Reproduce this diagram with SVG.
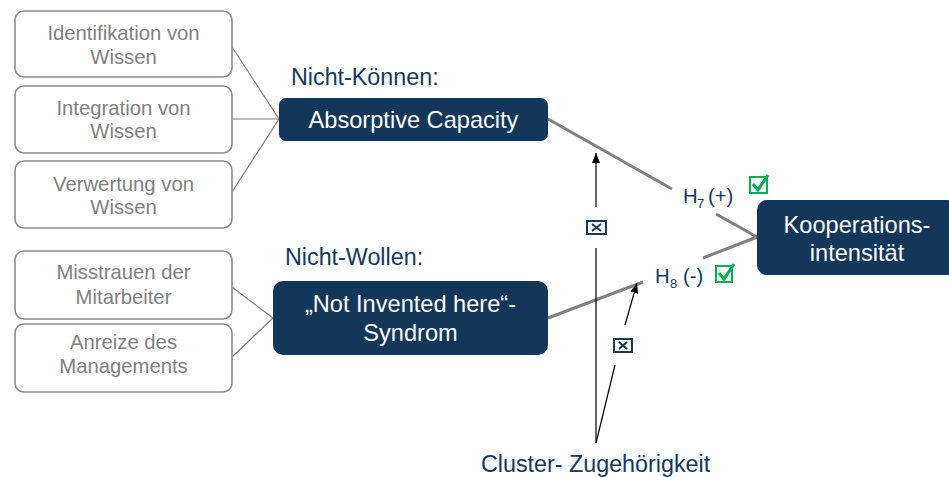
<svg xmlns="http://www.w3.org/2000/svg" width="949" height="477" viewBox="0 0 949 477">
<style>
.src rect{fill:#fff;stroke:#8c8c8c;stroke-width:1.6}
.src text{font-family:"Liberation Sans",Arial,sans-serif;font-size:20.3px;fill:#808080;text-anchor:middle}
.dark rect{fill:#12375b}
.dark text{font-family:"Liberation Sans",Arial,sans-serif;font-size:23.6px;fill:#fff;text-anchor:middle}
.lbl{font-family:"Liberation Sans",Arial,sans-serif;font-size:23.3px;fill:#17375e}
.h{font-family:"Liberation Sans",Arial,sans-serif;font-size:20.3px;fill:#17375e}
.sub{font-family:"Liberation Sans",Arial,sans-serif;font-size:13px;fill:#17375e}
.cb{fill:none;stroke:#00b050;stroke-width:2}
.ck{fill:none;stroke:#00b050;stroke-width:3;stroke-linejoin:miter}
.xb{fill:none;stroke:#17375e;stroke-width:2}
.xl{fill:none;stroke:#17375e;stroke-width:2}
.thin{stroke:#7f7f7f;stroke-width:1.2;fill:none}
.thick{stroke:#808080;stroke-width:3;fill:none}
.arr{stroke:#000;stroke-width:1.2;fill:none}
</style>
<defs>
<marker id="ah" markerUnits="userSpaceOnUse" markerWidth="10" markerHeight="8" refX="10" refY="4" orient="auto">
<path d="M0,0 L10,4 L0,8 z" fill="#000"/>
</marker>
</defs>
<g id="connectors">
<path class="thin" d="M232,47 L279,119 M232,119 L279,119 M232,192 L279,119"/>
<path class="thin" d="M232,287 L273,318 M232,357 L273,318"/>
<path class="thick" d="M548,119 L672,189 M716,214 L757,237"/>
<path class="thick" d="M548,318 L643,282 M703,258 L757,237"/>
<path class="arr" d="M596,443 L596,248"/>
<path class="arr" d="M596,207 L596,153" marker-end="url(#ah)"/>
<path class="arr" d="M596,443 L615,365"/>
<path class="arr" d="M625,325 L637,283" marker-end="url(#ah)"/>
</g>
<g id="n-ident" class="src"><rect x="15" y="11" width="217" height="66" rx="9"/><text x="123.5" y="40">Identifikation von</text><text x="123.5" y="64">Wissen</text></g>
<g id="n-integ" class="src"><rect x="15" y="86" width="217" height="67" rx="9"/><text x="123.5" y="115">Integration von</text><text x="123.5" y="138">Wissen</text></g>
<g id="n-verw" class="src"><rect x="15" y="161" width="217" height="67" rx="9"/><text x="123.5" y="191">Verwertung von</text><text x="123.5" y="214">Wissen</text></g>
<g id="n-miss" class="src"><rect x="15" y="251" width="217" height="68" rx="9"/><text x="123.5" y="279">Misstrauen der</text><text x="123.5" y="304">Mitarbeiter</text></g>
<g id="n-anr" class="src"><rect x="15" y="324" width="217" height="68" rx="9"/><text x="123.5" y="349">Anreize des</text><text x="123.5" y="373">Managements</text></g>
<g id="n-abs" class="dark"><rect x="279" y="98" width="269" height="43" rx="7"/><text x="413.5" y="128">Absorptive Capacity</text></g>
<g id="n-nih" class="dark"><rect x="273" y="281" width="275" height="74" rx="10"/><text x="410.5" y="312">„Not Invented here“-</text><text x="410.5" y="341">Syndrom</text></g>
<g id="n-koop" class="dark"><rect x="757" y="200" width="200" height="75" rx="10"/><text x="857" y="233">Kooperations-</text><text x="857" y="261">intensität</text></g>
<g id="labels">
<text class="lbl" x="291" y="85">Nicht-Können:</text>
<text class="lbl" x="285" y="265">Nicht-Wollen:</text>
<text class="lbl" x="481" y="472">Cluster- Zugehörigkeit</text>
<text class="h" x="683" y="203">H</text><text class="sub" x="697" y="208">7</text><text class="h" x="708" y="203">(+)</text>
<text class="h" x="655" y="283">H</text><text class="sub" x="670" y="288">8</text><text class="h" x="683" y="283">(-)</text>
</g>
<g id="icons">
<rect class="cb" x="750" y="177" width="17" height="16"/>
<path class="ck" d="M753,184 L758,190 L768,175"/>
<rect class="cb" x="716" y="266" width="16" height="16"/>
<path class="ck" d="M719,273 L724,279 L734,264"/>
<rect class="xb" x="587" y="221" width="19" height="13"/>
<path class="xl" d="M592,224 L601,231 M601,224 L592,231"/>
<rect class="xb" x="614" y="339" width="18" height="13"/>
<path class="xl" d="M619,342 L627,349 M627,342 L619,349"/>
</g>
</svg>
